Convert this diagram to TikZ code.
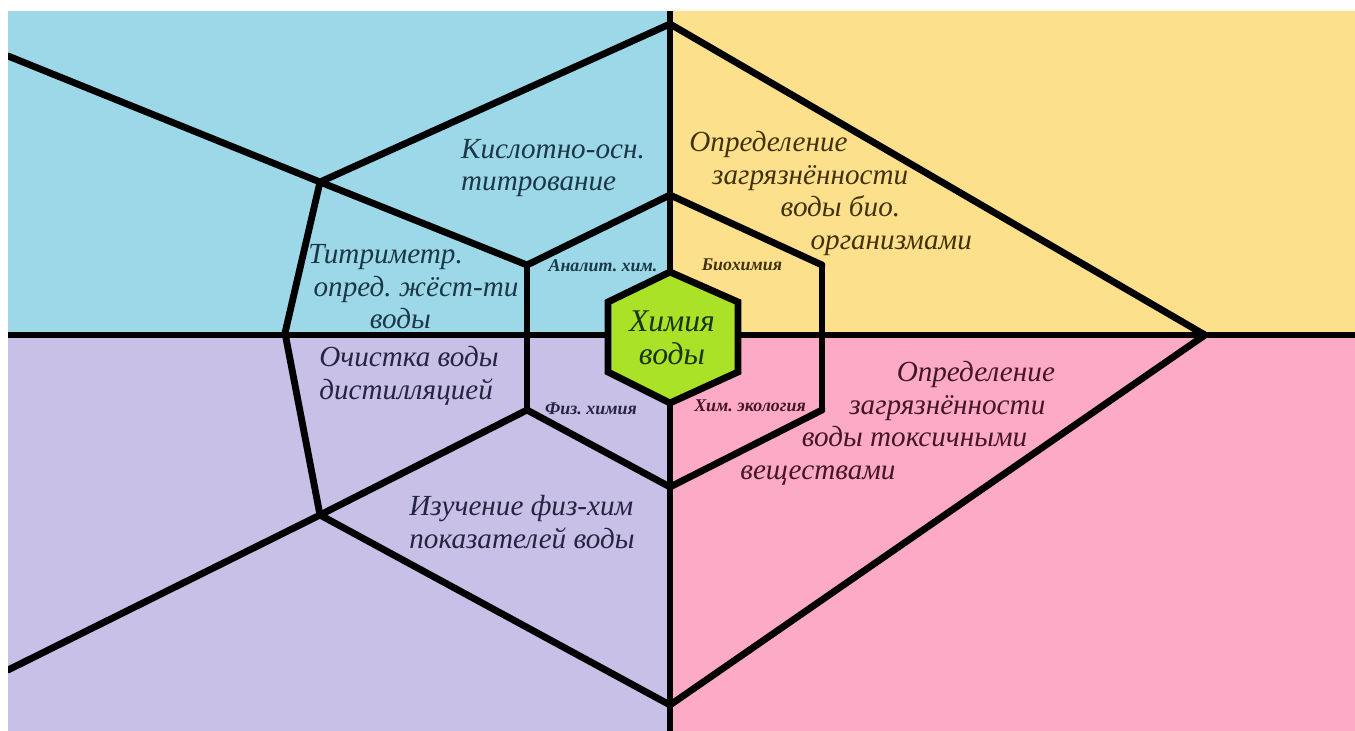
\documentclass[tikz,border=0pt]{standalone}
\usepackage{fontspec}
\setmainfont{Liberation Serif}
\frenchspacing
\definecolor{skyblue}{HTML}{9DD8E8}
\definecolor{sand}{HTML}{FDE08C}
\definecolor{lilac}{HTML}{C8C0E6}
\definecolor{rose}{HTML}{FDAAC6}
\definecolor{lime}{HTML}{AAE228}
\definecolor{skyink}{HTML}{1A3848}
\definecolor{sandink}{HTML}{42320C}
\definecolor{lilacink}{HTML}{262442}
\definecolor{roseink}{HTML}{441626}
\definecolor{limeink}{HTML}{183606}

\begin{document}
\begin{tikzpicture}[x=0.2mm,y=-0.2mm]
        \tikzstyle{every node} = [rectangle, inner sep=0pt]
        \tikzstyle{edge} = [line width=3.9pt, line cap=round]
        \tikzstyle{big} = [font=\itshape\fontsize{16.6}{18.6}\selectfont]
        \tikzstyle{small} = [font=\itshape\bfseries\fontsize{10.2}{11}\selectfont]
        \useasboundingbox (0,0) rectangle (1355,731);
        \fill[white] (0,0) rectangle (1355,731);
        % quarters
        \fill[skyblue] (8,11) rectangle (670,335);
        \fill[sand] (670,11) rectangle (1355,335);
        \fill[lilac] (8,335) rectangle (670,731);
        \fill[rose] (670,335) rectangle (1355,731);
        % corners of the web
        \coordinate (n) at (670,11);
        \coordinate (s) at (670,731);
        \coordinate (w) at (8,335);
        \coordinate (e) at (1355,335);
        \coordinate (tp) at (670,24);
        \coordinate (bt) at (670,705);
        \coordinate (rt) at (1205,335);
        \coordinate (wa) at (8,56);
        \coordinate (wb) at (8,670);
        \coordinate (la) at (320,182);
        \coordinate (lb) at (285,333);
        \coordinate (lc) at (320,515);
        \coordinate (ha) at (670,195);
        \coordinate (hb) at (527,265);
        \coordinate (hc) at (527,410);
        \coordinate (hd) at (670,487);
        \coordinate (he) at (822,410);
        \coordinate (hf) at (822,265);
        \begin{scope}
            \clip (8,11) rectangle (1355,731);
            \foreach \from/\to in {n/s, w/e, wa/la, la/hb, la/tp, tp/rt, rt/bt, lc/bt,
                    wb/lc, lc/hc, la/lb, lb/lc, ha/hb, hb/hc, hc/hd, hd/he, he/hf, hf/ha}
                \draw[edge] (\from) -- (\to);
        \end{scope}
        % centre
        \filldraw[edge, fill=lime, line join=miter] (670,272) -- (608,302) -- (608,372)
            -- (670,403) -- (738,372) -- (738,302) -- cycle;
        \node[font=\itshape\fontsize{18}{19}\selectfont, text=limeink, align=center] (core)
            at (672,338) {Химия\\воды};
        % inner ring
        \node[small, text=skyink] (anal) at (603,266) {Аналит. хим.};
        \node[small, text=sandink] (bioc) at (742,265) {Биохимия};
        \node[small, text=lilacink] (fiz) at (591,409) {Физ. химия};
        \node[small, text=roseink] (eco) at (750,406) {Хим. экология};
        % outer ring
        \node[big, text=skyink, align=left] (acid) at (553,168) {Кислотно-осн.\\титрование};
        \node[big, text=skyink, align=left, anchor=north west] (titr) at (308,244)
            {Титриметр.\\\hspace*{3pt}опред. жёст-ти\\\hspace*{35pt}воды};
        \node[big, text=lilacink, align=left] (dist) at (409,376) {Очистка воды\\дистилляцией};
        \node[big, text=lilacink, align=left] (phys) at (522,522) {Изучение физ-хим\\показателей воды};
        \node[big, text=sandink, align=left, anchor=north west] (bio) at (689,131)
            {Определение\\\hspace*{13pt}загрязнённости\\\hspace*{52pt}воды био.\\\hspace*{69pt}организмами};
        \node[big, text=roseink, align=left, anchor=north west] (tox) at (740,361)
            {\hspace*{89pt}Определение\\\hspace*{62pt}загрязнённости\\\hspace*{35pt}воды токсичными\\веществами};
\end{tikzpicture}
\end{document}
